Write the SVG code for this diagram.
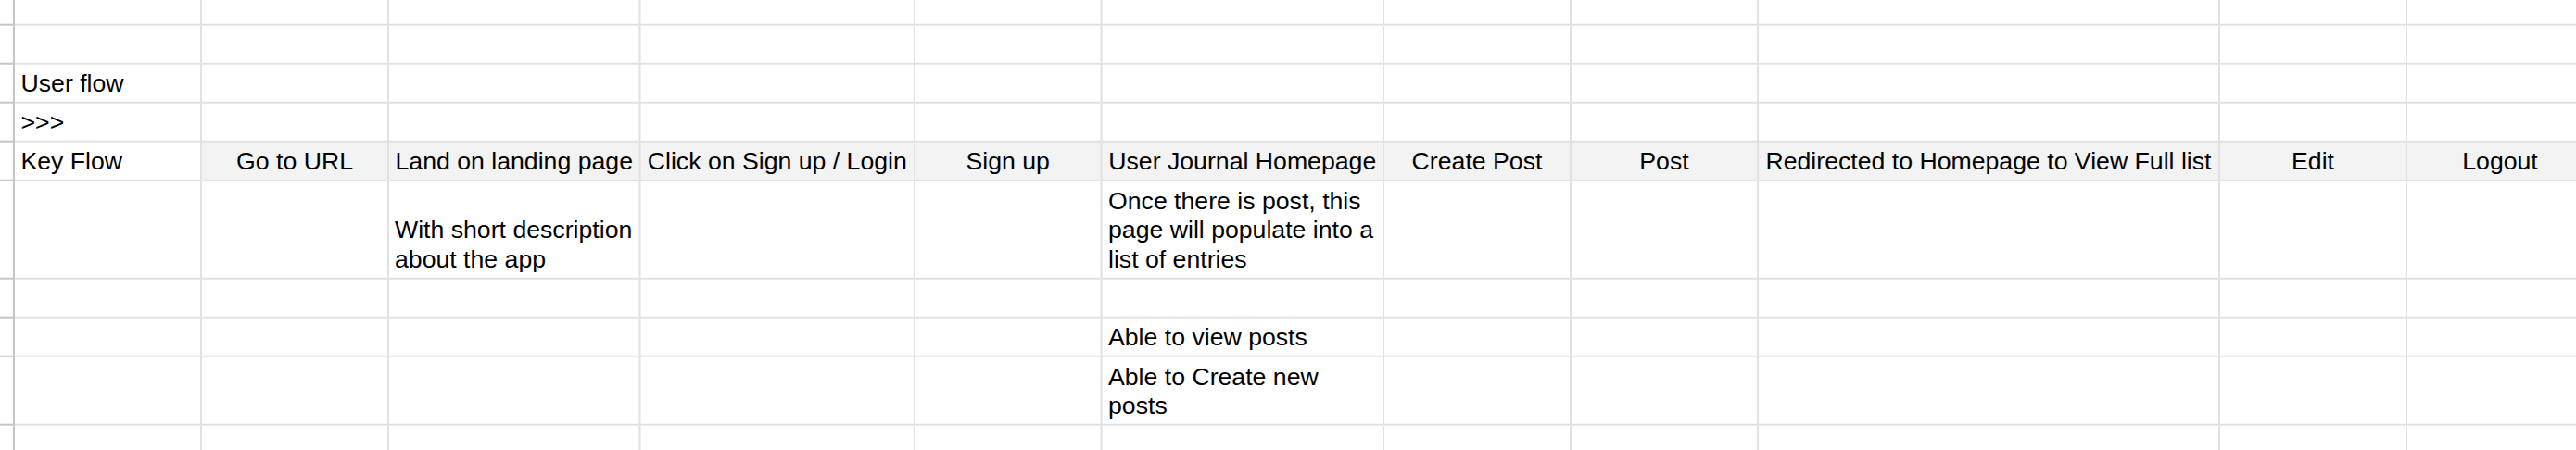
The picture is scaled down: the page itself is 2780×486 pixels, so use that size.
<svg xmlns="http://www.w3.org/2000/svg" width="2780" height="486" viewBox="0 0 2780 486">
<style>
.t{font-family:"Liberation Sans",Arial,Helvetica,sans-serif;font-size:26.67px;fill:#000}
.c{text-anchor:middle}
.g line{stroke:#e2e2e2;stroke-width:2}
.f line{stroke:#c6c6c6;stroke-width:2}
</style>
<rect x="0" y="0" width="2780" height="486" fill="#fff"/>
<rect x="217" y="152.7" width="2563" height="42" fill="#f3f3f3"/>
<g id="grid" class="g">
<line x1="15" y1="26.7" x2="2780" y2="26.7"/>
<line x1="15" y1="68.7" x2="2780" y2="68.7"/>
<line x1="15" y1="110.7" x2="2780" y2="110.7"/>
<line x1="15" y1="152.7" x2="2780" y2="152.7"/>
<line x1="15" y1="194.7" x2="2780" y2="194.7"/>
<line x1="15" y1="300.7" x2="2780" y2="300.7"/>
<line x1="15" y1="342.7" x2="2780" y2="342.7"/>
<line x1="15" y1="384.7" x2="2780" y2="384.7"/>
<line x1="15" y1="458.7" x2="2780" y2="458.7"/>
<line x1="217" y1="0" x2="217" y2="486"/>
<line x1="419" y1="0" x2="419" y2="486"/>
<line x1="690.5" y1="0" x2="690.5" y2="486"/>
<line x1="987" y1="0" x2="987" y2="486"/>
<line x1="1188.5" y1="0" x2="1188.5" y2="486"/>
<line x1="1493" y1="0" x2="1493" y2="486"/>
<line x1="1695" y1="0" x2="1695" y2="486"/>
<line x1="1897" y1="0" x2="1897" y2="486"/>
<line x1="2395" y1="0" x2="2395" y2="486"/>
<line x1="2597" y1="0" x2="2597" y2="486"/>
</g>
<g id="frame" class="f">
<line x1="15" y1="0" x2="15" y2="486"/>
<line x1="0" y1="26.7" x2="15" y2="26.7"/>
<line x1="0" y1="68.7" x2="15" y2="68.7"/>
<line x1="0" y1="110.7" x2="15" y2="110.7"/>
<line x1="0" y1="152.7" x2="15" y2="152.7"/>
<line x1="0" y1="194.7" x2="15" y2="194.7"/>
<line x1="0" y1="300.7" x2="15" y2="300.7"/>
<line x1="0" y1="342.7" x2="15" y2="342.7"/>
<line x1="0" y1="384.7" x2="15" y2="384.7"/>
<line x1="0" y1="458.7" x2="15" y2="458.7"/>
</g>
<g id="user-flow"><text class="t" x="22.5" y="99">User flow</text></g>
<g id="arrows"><text class="t" x="22.5" y="141">&gt;&gt;&gt;</text></g>
<g id="key-flow"><text class="t" x="22.5" y="183">Key Flow</text></g>
<g id="go-to-url"><text class="t c" x="318" y="183">Go to URL</text></g>
<g id="landing"><text class="t c" x="554.75" y="183">Land on landing page</text></g>
<g id="click-signup"><text class="t c" x="838.75" y="183">Click on Sign up / Login</text></g>
<g id="sign-up"><text class="t c" x="1087.75" y="183">Sign up</text></g>
<g id="homepage"><text class="t c" x="1340.75" y="183">User Journal Homepage</text></g>
<g id="create-post"><text class="t c" x="1594" y="183">Create Post</text></g>
<g id="post"><text class="t c" x="1796" y="183">Post</text></g>
<g id="redirected"><text class="t c" x="2146" y="183">Redirected to Homepage to View Full list</text></g>
<g id="edit"><text class="t c" x="2496" y="183">Edit</text></g>
<g id="logout"><text class="t c" x="2698" y="183">Logout</text></g>
<g id="landing-note"><text class="t" x="426" y="257">With short description</text><text class="t" x="426" y="288.7">about the app</text></g>
<g id="homepage-note"><text class="t" x="1196" y="225.8">Once there is post, this</text><text class="t" x="1196" y="257.4">page will populate into a</text><text class="t" x="1196" y="289">list of entries</text></g>
<g id="view-posts"><text class="t" x="1196" y="373">Able to view posts</text></g>
<g id="create-new"><text class="t" x="1196" y="415.5">Able to Create new</text><text class="t" x="1196" y="447">posts</text></g>
</svg>
